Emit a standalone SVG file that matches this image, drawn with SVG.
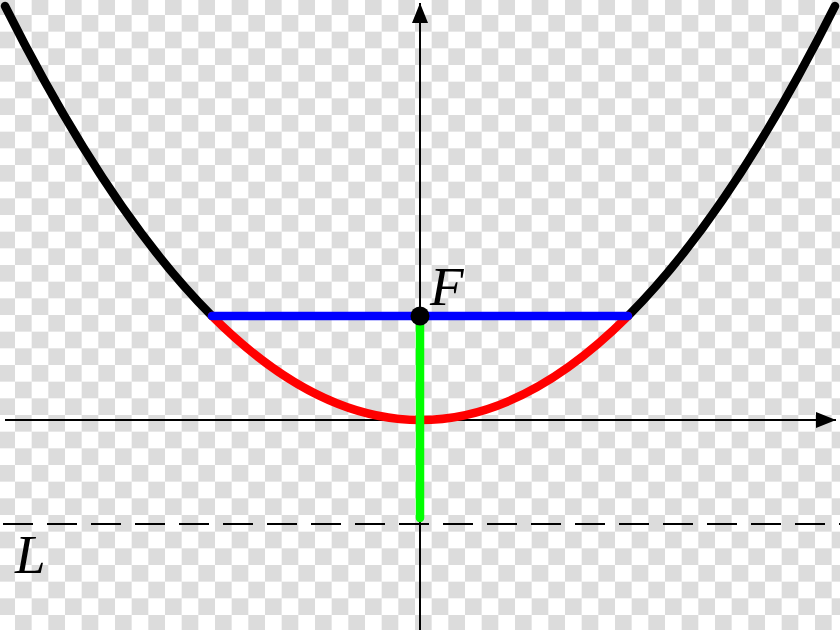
<svg xmlns="http://www.w3.org/2000/svg" width="840" height="630" viewBox="0 0 840 630">
  <defs>
    <pattern id="checker" x="-1.67" y="-1.67" width="33.333" height="33.333" patternUnits="userSpaceOnUse">
      <rect x="0" y="0" width="33.333" height="33.333" fill="#ffffff"/>
      <rect x="0" y="0" width="16.667" height="16.667" fill="#dcdcdc"/>
      <rect x="16.667" y="16.667" width="16.667" height="16.667" fill="#dcdcdc"/>
    </pattern>
    <marker id="arrow" markerUnits="userSpaceOnUse" markerWidth="22" markerHeight="18" refX="20" refY="8" orient="auto">
      <path d="M0,0 L20,8 L0,16 Z" fill="#000"/>
    </marker>
  </defs>
  <style>
    .axis { stroke: #000; stroke-width: 2; fill: none; }
    .curve { fill: none; stroke-width: 8.5; stroke-linecap: round; }
    .lbl { font-family: "Liberation Serif", "DejaVu Serif", serif; font-style: italic; font-size: 55px; fill: #000; }
  </style>
  <rect id="background" x="0" y="0" width="840" height="630" fill="url(#checker)"/>
  <g id="connectors">
    <line class="axis" x1="5" y1="420" x2="836" y2="420" marker-end="url(#arrow)"/>
    <line class="axis" x1="420" y1="630" x2="420" y2="3" marker-end="url(#arrow)"/>
  </g>
  <g id="directrix">
    <line x1="3" y1="524" x2="840" y2="524" stroke="#000" stroke-width="2" stroke-dasharray="30 14"/>
    <text class="lbl" x="15" y="573">L</text>
  </g>
  <g id="parabola">
    <path class="curve" stroke="#000" d="M5,6 Q108.5,212.5 212,316"/>
    <path class="curve" stroke="#000" d="M628,316 Q731.5,212.5 835,6"/>
    <path class="curve" stroke="#ff0000" d="M212,316 Q420,524 628,316"/>
  </g>
  <g id="latus-rectum">
    <line class="curve" stroke="#0000ff" x1="212" y1="316" x2="628" y2="316"/>
  </g>
  <g id="focus-directrix-segment">
    <line class="curve" stroke="#00ff00" x1="420" y1="316" x2="420" y2="518"/>
  </g>
  <g id="focus">
    <circle cx="420" cy="316" r="9.5" fill="#000"/>
    <text class="lbl" x="430" y="305">F</text>
  </g>
</svg>
